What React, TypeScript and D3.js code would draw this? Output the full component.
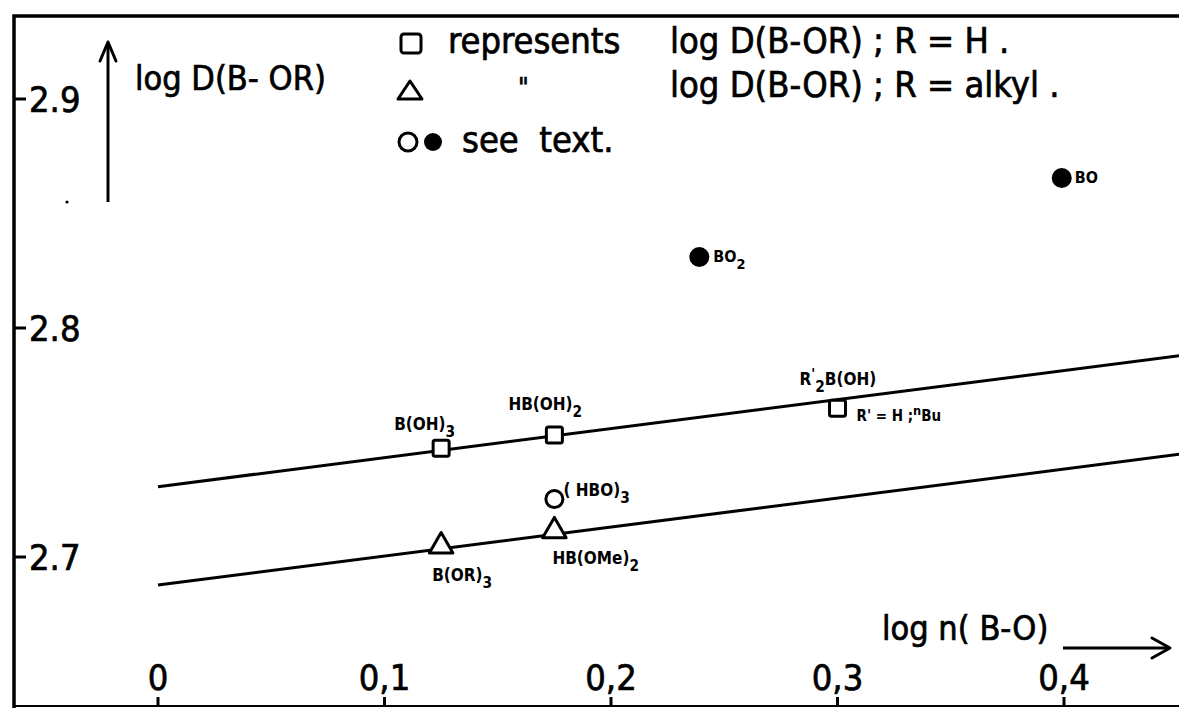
import * as d3 from 'd3';

// axis ticks
const xTicks = [0, 0.1, 0.2, 0.3, 0.4];
const xTickLabels = ['0', '0,1', '0,2', '0,3', '0,4'];
const yTicks = [2.7, 2.8, 2.9];
const yTickLabels = ['2.7', '2.8', '2.9'];

// fitted straight lines (end points)
const lineRH = [[0, 2.7307], [0.452, 2.788]];
const lineRAlkyl = [[0, 2.6878], [0.452, 2.745]];

// R = H (squares)
const squareX = [0.125, 0.175, 0.3];
const squareY = [2.7475, 2.7533, 2.765];
const squareNames = [['B(OH)', '_3'], ['HB(OH)', '_2'], ['R', "^'", '_2', 'B(OH)']];

// R = alkyl (triangles)
const triangleX = [0.125, 0.175];
const triangleY = [2.7052, 2.7118];
const triangleNames = [['B(OR)', '_3'], ['HB(OMe)', '_2']];

// see text
const openX = [0.175];
const openY = [2.7253];
const openNames = [['( HBO)', '_3']];
const filledX = [0.239, 0.399];
const filledY = [2.831, 2.8655];
const filledNames = [['BO', '_2'], ['BO']];

const width = 1179;
const height = 708;
const big = "'DejaVu Sans Condensed', 'DejaVu Sans', sans-serif";

// label placement relative to marker centre
const labelOffset: Record<string, [number, number]> = {
    'B(OH)3': [-47, -18],
    'HB(OH)2': [-46, -25],
    "R'2B(OH)": [-38, -23],
    'B(OR)3': [-9, 36],
    'HB(OMe)2': [-2, 34],
    '( HBO)3': [9, -3],
    'BO2': [14, 5],
    'BO': [13, 5],
};

const Rich = ({ x, y, parts, size }: { x: number, y: number, parts: string[], size: number }) => {
    let shift = 0;
    const spans = parts.map((p, i) => {
        let target = 0, text = p, fs = size;
        if (p.startsWith('_')) { target = size * 0.42; text = p.slice(1); fs = size * 0.9; }
        else if (p.startsWith('^')) { target = -size * 0.4; text = p.slice(1); fs = size * 0.85; }
        const dy = target - shift;
        shift = target;
        return <tspan key={i} dy={dy} fontSize={fs}>{text}</tspan>;
    });
    return <text x={x} y={y} fontFamily={big} fontStretch="condensed" fontWeight="bold"
        fontSize={size} fill="#000" style={{ whiteSpace: 'pre' }}>{spans}</text>;
};

const Big = ({ x, y, children, size = 36, anchor = 'start' }: any) => (
    <text x={x} y={y} fontFamily={big} fontStretch="condensed" fontSize={size} textAnchor={anchor}
        fill="#000" stroke="#000" strokeWidth={0.7} style={{ whiteSpace: 'pre' }}>{children}</text>
);

export default function App() {
    const x = d3.scaleLinear().domain([0, 0.4]).range([158, 1064]);
    const y = d3.scaleLinear().domain([2.7, 2.8]).range([557, 328]);
    const line = d3.line<number[]>().x(d => x(d[0])).y(d => y(d[1]));
    const tri = d3.symbol(d3.symbolTriangle, 240);
    const stroke = '#000';

    const key = (parts: string[]) => parts.map(p => p.replace(/^[_^]/, '')).join('');

    return (
        <svg width={width} height={height} style={{ position: 'absolute', left: 0, top: 0, background: '#fff' }}>
            <defs>
                <clipPath id="plot"><rect x={16} y={18} width={width - 16} height={686} /></clipPath>
            </defs>
            <rect width={width} height={height} fill="#fff" />

            {/* frame */}
            <path d={`M14,${height} V16 H${width}`} fill="none" stroke={stroke} strokeWidth={3.5} />
            <line x1={14} x2={width} y1={706} y2={706} stroke={stroke} strokeWidth={2} />

            {/* y ticks */}
            {yTicks.map((t, i) => (
                <g key={t}>
                    <line x1={14} x2={26} y1={y(t)} y2={y(t)} stroke={stroke} strokeWidth={3} />
                    <Big x={29} y={y(t) + 13}>{yTickLabels[i]}</Big>
                </g>
            ))}

            {/* x ticks */}
            {xTicks.map((t, i) => (
                <g key={t}>
                    <line x1={x(t)} x2={x(t)} y1={697} y2={706} stroke={stroke} strokeWidth={3} />
                    <Big x={x(t)} y={690} anchor="middle">{xTickLabels[i]}</Big>
                </g>
            ))}

            {/* axis titles with arrows */}
            <line x1={108} x2={108} y1={202} y2={43} stroke={stroke} strokeWidth={3} />
            <polyline points="100,61 108,42 116,61" fill="none" stroke={stroke} strokeWidth={3} strokeLinecap="round" strokeLinejoin="round" />
            <Big x={135} y={90} size={34}>log D(B- OR)</Big>
            <circle cx={67} cy={202} r={1.6} fill="#000" />

            <Big x={882} y={640} size={34}>log n( B-O)</Big>
            <line x1={1063} x2={1169} y1={648} y2={648} stroke={stroke} strokeWidth={3} />
            <polyline points="1152,638 1170,648 1152,658" fill="none" stroke={stroke} strokeWidth={3} strokeLinecap="round" strokeLinejoin="round" />

            {/* legend */}
            <rect x={401} y={34} width={20} height={19} rx={3} fill="none" stroke={stroke} strokeWidth={3} />
            <Big x={448} y={53}>represents</Big>
            <Big x={670} y={53}>log D(B-OR) ; R = H .</Big>
            <path d="M410,81 L422,99 L398,99 Z" fill="none" stroke={stroke} strokeWidth={3} strokeLinejoin="round" />
            <Big x={518} y={97} size={26}>"</Big>
            <Big x={670} y={97}>log D(B-OR) ; R = alkyl .</Big>
            <circle cx={408} cy={142} r={9} fill="none" stroke={stroke} strokeWidth={3} />
            <circle cx={433} cy={142} r={9} fill="#000" />
            <Big x={462} y={152}>see  text.</Big>

            {/* fitted lines */}
            <g clipPath="url(#plot)">
                <path d={line(lineRH) ?? ''} fill="none" stroke={stroke} strokeWidth={3} />
                <path d={line(lineRAlkyl) ?? ''} fill="none" stroke={stroke} strokeWidth={3} />
            </g>

            {/* squares */}
            {squareX.map((v, i) => {
                const cx = x(v), cy = y(squareY[i]);
                const k = key(squareNames[i]);
                const [dx, dy] = labelOffset[k];
                return (
                    <g key={k}>
                        <rect x={cx - 8} y={cy - 8} width={16} height={16} rx={2} fill="#fff" stroke={stroke} strokeWidth={3} />
                        <Rich x={cx + dx} y={cy + dy} parts={squareNames[i]} size={17} />
                    </g>
                );
            })}
            <Rich x={x(squareX[2]) + 19} y={y(squareY[2]) + 13} parts={["R' = H ;", '^n', 'Bu']} size={15} />

            {/* triangles */}
            {triangleX.map((v, i) => {
                const cx = x(v), cy = y(triangleY[i]);
                const k = key(triangleNames[i]);
                const [dx, dy] = labelOffset[k];
                return (
                    <g key={k}>
                        <path d={tri() ?? ''} transform={`translate(${cx},${cy + 1})`} fill="#fff" stroke={stroke} strokeWidth={3} strokeLinejoin="round" />
                        <Rich x={cx + dx} y={cy + dy} parts={triangleNames[i]} size={17} />
                    </g>
                );
            })}

            {/* open circle */}
            {openX.map((v, i) => {
                const cx = x(v), cy = y(openY[i]);
                const k = key(openNames[i]);
                const [dx, dy] = labelOffset[k];
                return (
                    <g key={k}>
                        <circle cx={cx} cy={cy} r={8.5} fill="#fff" stroke={stroke} strokeWidth={3} />
                        <Rich x={cx + dx} y={cy + dy} parts={openNames[i]} size={17} />
                    </g>
                );
            })}

            {/* filled circles */}
            {filledX.map((v, i) => {
                const cx = x(v), cy = y(filledY[i]);
                const k = key(filledNames[i]);
                const [dx, dy] = labelOffset[k];
                return (
                    <g key={k}>
                        <circle cx={cx} cy={cy} r={10} fill="#000" />
                        <Rich x={cx + dx} y={cy + dy} parts={filledNames[i]} size={16} />
                    </g>
                );
            })}
        </svg>
    );
}
